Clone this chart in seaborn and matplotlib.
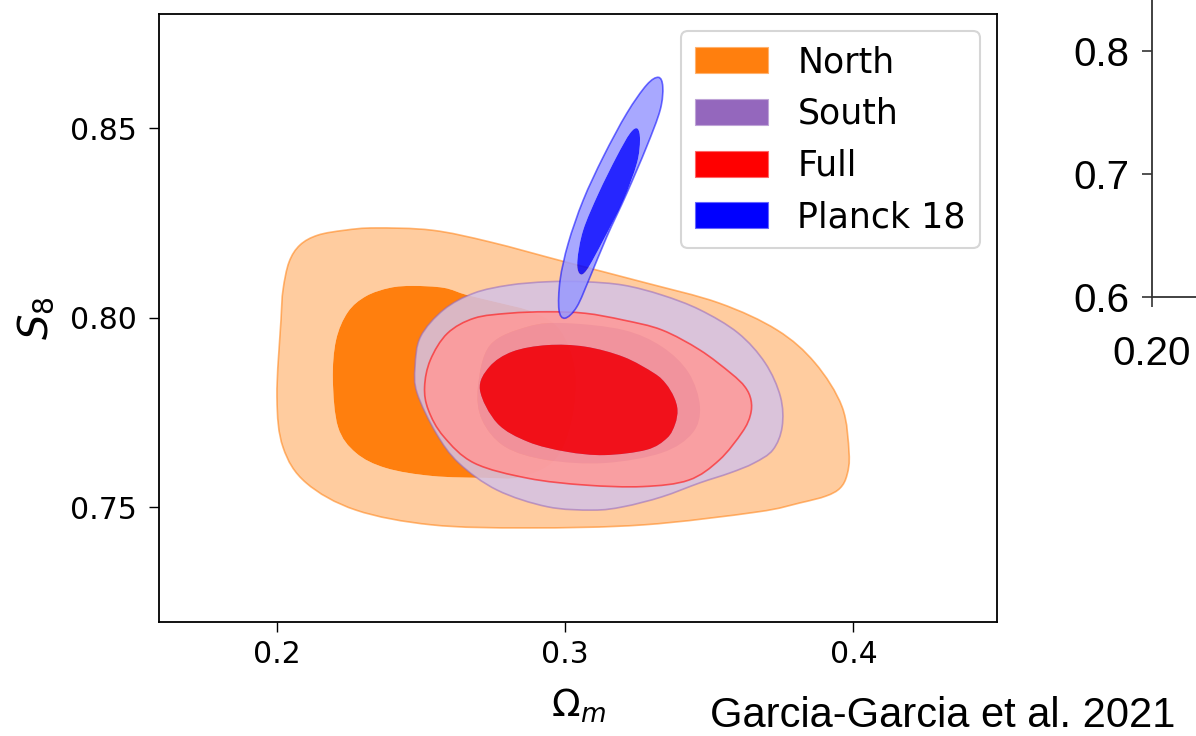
import numpy as np
import matplotlib
matplotlib.use("Agg")
import matplotlib.pyplot as plt
from matplotlib.path import Path
from matplotlib.patches import PathPatch, Patch
import seaborn as sns

# ---- contour boundaries (Omega_m, S8) of the 68% and 95% credible regions ----
north_outer_om = [0.2015, 0.2022, 0.2043, 0.2081, 0.2143, 0.2237, 0.2341, 0.2539, 0.2740,
                  0.3003, 0.3271, 0.3534, 0.3735, 0.3867, 0.3961, 0.3985, 0.3978, 0.3954,
                  0.3905, 0.3815, 0.3666, 0.3271, 0.2872, 0.2539, 0.2275, 0.2102, 0.2022,
                  0.2001]
north_outer_s8 = [0.7994, 0.8073, 0.8147, 0.8192, 0.8218, 0.8231, 0.8237, 0.8231, 0.8200,
                  0.8147, 0.8094, 0.8039, 0.7968, 0.7881, 0.7765, 0.7644, 0.7586, 0.7551,
                  0.7530, 0.7512, 0.7488, 0.7454, 0.7446, 0.7454, 0.7493, 0.7565, 0.7659,
                  0.7791]
north_inner_om = [0.2195, 0.2206, 0.2247, 0.2310, 0.2393, 0.2473, 0.2580, 0.2660, 0.2775,
                  0.2889, 0.2983, 0.3035, 0.3024, 0.2965, 0.2844, 0.2726, 0.2539, 0.2379,
                  0.2275, 0.2213]
north_inner_s8 = [0.7836, 0.7941, 0.8015, 0.8057, 0.8079, 0.8084, 0.8079, 0.8060, 0.8039,
                  0.8015, 0.7968, 0.7862, 0.7731, 0.7625, 0.7580, 0.7578, 0.7583, 0.7604,
                  0.7644, 0.7712]

south_outer_om = [0.2480, 0.2499, 0.2579, 0.2684, 0.2805, 0.2938, 0.3069, 0.3203, 0.3336,
                  0.3468, 0.3600, 0.3694, 0.3747, 0.3753, 0.3721, 0.3655, 0.3572, 0.3468,
                  0.3336, 0.3203, 0.3097, 0.2938, 0.2764, 0.2632, 0.2553, 0.2487]
south_outer_s8 = [0.7871, 0.7950, 0.8021, 0.8065, 0.8086, 0.8095, 0.8095, 0.8086, 0.8060,
                  0.8021, 0.7960, 0.7881, 0.7792, 0.7713, 0.7652, 0.7617, 0.7591, 0.7565,
                  0.7528, 0.7502, 0.7493, 0.7502, 0.7546, 0.7617, 0.7696, 0.7802]
south_inner_om = [0.2698, 0.2740, 0.2872, 0.3003, 0.3203, 0.3336, 0.3429, 0.3468, 0.3442,
                  0.3336, 0.3137, 0.2938, 0.2792, 0.2712]
south_inner_s8 = [0.7818, 0.7928, 0.7977, 0.7986, 0.7968, 0.7924, 0.7855, 0.7766, 0.7696,
                  0.7644, 0.7617, 0.7625, 0.7660, 0.7731]

full_outer_om = [0.2513, 0.2533, 0.2592, 0.2685, 0.2805, 0.2938, 0.3070, 0.3203, 0.3336,
                 0.3468, 0.3575, 0.3624, 0.3645, 0.3643, 0.3615, 0.3535, 0.3429, 0.3270,
                 0.3070, 0.2871, 0.2685, 0.2579, 0.2526]
full_outer_s8 = [0.7818, 0.7889, 0.7959, 0.7999, 0.8012, 0.8016, 0.8012, 0.7994, 0.7968,
                 0.7915, 0.7854, 0.7818, 0.7783, 0.7744, 0.7699, 0.7625, 0.7572, 0.7555,
                 0.7559, 0.7577, 0.7617, 0.7687, 0.7757]
full_inner_om = [0.2705, 0.2738, 0.2818, 0.2938, 0.3070, 0.3203, 0.3309, 0.3350, 0.3378,
                 0.3390, 0.3382, 0.3354, 0.3283, 0.3137, 0.3004, 0.2872, 0.2765]
full_inner_s8 = [0.7810, 0.7871, 0.7911, 0.7928, 0.7924, 0.7897, 0.7854, 0.7826, 0.7791,
                 0.7757, 0.7720, 0.7683, 0.7652, 0.7638, 0.7647, 0.7673, 0.7722]

planck_outer_om = [0.3324, 0.3339, 0.3330, 0.3283, 0.3214, 0.3145, 0.3087, 0.3041, 0.3000,
                   0.2979, 0.2983, 0.3011, 0.3063, 0.3133, 0.3214, 0.3283]
planck_outer_s8 = [0.8634, 0.8609, 0.8548, 0.8451, 0.8328, 0.8214, 0.8108, 0.8029, 0.7999,
                   0.8021, 0.8100, 0.8196, 0.8310, 0.8425, 0.8539, 0.8614]
planck_inner_om = [0.3251, 0.3260, 0.3249, 0.3202, 0.3133, 0.3075, 0.3050, 0.3043, 0.3063,
                   0.3116, 0.3179, 0.3225]
planck_inner_s8 = [0.8499, 0.8469, 0.8407, 0.8310, 0.8205, 0.8126, 0.8117, 0.8152, 0.8231,
                   0.8328, 0.8425, 0.8486]

labels = ["North", "South", "Full", "Planck 18"]
x_ticks = [0.2, 0.3, 0.4]
y_ticks = [0.75, 0.80, 0.85]

# ---- style ----
sns.set_theme(style="ticks")
plt.rcParams["font.family"] = ["DejaVu Sans"]
plt.rcParams["mathtext.fontset"] = "dejavusans"
plt.rcParams["text.color"] = "black"

tab = sns.color_palette("tab10")
colors = [tab[1], tab[4], (1.0, 0.0, 0.0), (0.0, 0.0, 1.0)]
alphas = [1.0, 0.85, 0.85, 0.85]


def closed_curve(xs, ys):
    """Smooth closed Bezier path passing through the given boundary points."""
    p = np.column_stack([xs, ys])
    n = len(p)
    verts = [p[0]]
    codes = [Path.MOVETO]
    for i in range(n):
        p0, p1, p2, p3 = p[i - 1], p[i], p[(i + 1) % n], p[(i + 2) % n]
        verts += [p1 + (p2 - p0) / 6.0, p2 - (p3 - p1) / 6.0, p2]
        codes += [Path.CURVE4] * 3
    verts.append(p[0])
    codes.append(Path.CLOSEPOLY)
    return Path(np.array(verts), codes)


def signed_area(xs, ys):
    x = np.asarray(xs)
    y = np.asarray(ys)
    return 0.5 * np.sum(x * np.roll(y, -1) - np.roll(x, -1) * y)


def pale(c, f=0.6):
    return tuple(v * (1 - f) + f for v in c)


fig = plt.figure(figsize=(11.96, 7.36), dpi=100)
ax = fig.add_axes([159 / 1196, 114 / 736, 838 / 1196, 608 / 736])

regions = [
    (north_outer_om, north_outer_s8, north_inner_om, north_inner_s8),
    (south_outer_om, south_outer_s8, south_inner_om, south_inner_s8),
    (full_outer_om, full_outer_s8, full_inner_om, full_inner_s8),
    (planck_outer_om, planck_outer_s8, planck_inner_om, planck_inner_s8),
]

for (ox, oy, ix, iy), col, a in zip(regions, colors, alphas):
    outer = closed_curve(ox, oy)
    if np.sign(signed_area(ox, oy)) == np.sign(signed_area(ix, iy)):
        hole = closed_curve(ix[::-1], iy[::-1])
    else:
        hole = closed_curve(ix, iy)
    ring = Path.make_compound_path(outer, hole)
    ax.add_patch(PathPatch(ring, facecolor=pale(col), edgecolor="none", alpha=a, zorder=2))
    ax.add_patch(PathPatch(closed_curve(ix, iy), facecolor=col, edgecolor="none",
                           alpha=a, zorder=2))
    ax.add_patch(PathPatch(outer, facecolor="none", edgecolor=col, lw=1.2,
                           alpha=0.55, zorder=2))

ax.set_xlim(0.1592, 0.4498)
ax.set_ylim(0.7198, 0.8801)
ax.set_xticks(x_ticks)
ax.set_xticklabels([f"{v:.1f}" for v in x_ticks])
ax.set_yticks(y_ticks)
ax.set_yticklabels([f"{v:.2f}" for v in y_ticks])
ax.tick_params(axis="both", direction="out", length=7, width=1.0, color="black",
               labelsize=21.5, labelcolor="black")
ax.tick_params(axis="x", pad=6)
ax.tick_params(axis="y", pad=9)
for s in ax.spines.values():
    s.set_visible(True)
    s.set_color("black")
    s.set_linewidth(1.3)

ax.set_xlabel(r"$\Omega_m$", fontsize=27, labelpad=13, color="black")
ax.set_ylabel(r"$S_8$", fontsize=29, labelpad=10, color="black")

handles = [Patch(facecolor=c, edgecolor=pale(c, 0.4), lw=0.8) for c in colors]
leg = ax.legend(handles, labels, loc="upper right", fontsize=25, frameon=True,
                handlelength=2.1, handleheight=0.78, handletextpad=0.84,
                borderpad=0.4, labelspacing=0.51, borderaxespad=0.5,
                fancybox=True, framealpha=0.8)
leg.get_frame().set_edgecolor("0.8")
leg.get_frame().set_linewidth(1.5)
for t in leg.get_texts():
    t.set_color("black")

# neighbouring panel, only its left edge falls inside the figure
ax2 = fig.add_axes([1152 / 1196, 439 / 736, 0.5, 317 / 736])
ax2.set_xlim(0.2, 0.5)
ax2.set_ylim(0.6, 0.6 + 317 / 1230)
ax2.set_xticks([0.2])
ax2.set_xticklabels(["0.20"])
ax2.set_yticks([0.6, 0.7, 0.8])
ax2.set_yticklabels(["0.6", "0.7", "0.8"])
for lab in ax2.get_xticklabels() + ax2.get_yticklabels():
    lab.set_fontfamily("Liberation Sans")
    lab.set_fontsize(29)
    lab.set_color("black")
ax2.tick_params(axis="both", direction="out", length=7, width=1.2, color="#333333")
ax2.tick_params(axis="x", pad=20)
ax2.tick_params(axis="y", pad=9)
for s in ax2.spines.values():
    s.set_color("#333333")
    s.set_linewidth(1.3)

fig.text(710 / 1196, 9 / 736, "Garcia-Garcia et al. 2021", fontsize=30,
         family="Liberation Sans", color="black", va="baseline", ha="left")

fig.savefig("out.png", dpi=100, facecolor="white")
